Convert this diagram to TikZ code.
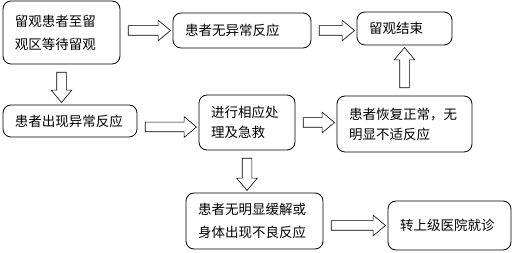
\documentclass[tikz,border=0pt]{standalone}
\usepackage{fontspec}
\setmainfont{Noto Sans CJK SC}
\usetikzlibrary{shapes.arrows,calc}
\tikzset{stepbox/.style={draw, rounded corners=8pt, line width=0.8pt, align=left,
    inner xsep=12pt, inner ysep=0pt, font=\fontsize{13.5}{20}\selectfont},
  widebox/.style={stepbox, font=\fontsize{13.5}{23}\selectfont},
  fatarrow/.style={to path={let \p1=(\tikztostart), \p2=(\tikztotarget),
      \n1={veclen(\x2-\x1,\y2-\y1)}, \n2={atan2(\y2-\y1,\x2-\x1)} in
      node[single arrow, draw, line width=0.6pt, inner sep=4.5pt,
        single arrow head extend=5.5pt, single arrow tip angle=80,
        minimum height=\n1-10, rotate=\n2, at={($(\p1)!0.5!(\p2)$)}] {}}}
}

\begin{document}
\begin{tikzpicture}[x=1pt,y=-1pt]
  \useasboundingbox (0,0) rectangle (512,253);
  % boxes
  \node[widebox, text width=93pt, minimum height=63pt] (start) at (61.5,32.5) {留观患者至留\\观区等待留观};
  \node[stepbox, text width=114pt, minimum height=35pt] (normal) at (242,30.5) {患者无异常反应};
  \node[stepbox, text width=71pt, minimum height=33pt] (finish) at (404.5,28.5) {留观结束};
  \node[stepbox, text width=110pt, minimum height=32pt] (abnormal) at (70,121) {患者出现异常反应};
  \node[stepbox, text width=72pt, minimum height=55pt] (treat) at (247,122.5) {进行相应处\\理及急救};
  \node[stepbox, text width=111pt, minimum height=56pt] (recover) at (404.5,124) {患者恢复正常，无\\明显不适反应};
  \node[widebox, text width=113pt, minimum height=56pt] (worse) at (254.5,221) {患者无明显缓解或\\身体出现不良反应};
  \node[stepbox, text width=99pt, minimum height=49pt] (transfer) at (449.5,225.5) {转上级医院就诊};
  % arrows
  \path (start.east |- normal.west) to[fatarrow] (normal.west);
  \path (normal.east) to[fatarrow] (normal.east -| finish.west);
  \path (recover.north) to[fatarrow] (recover.north |- finish.south);
  \path (start.south) to[fatarrow] (start.south |- abnormal.north);
  \path ([yshift=-6pt]abnormal.east) to[fatarrow] ([yshift=-6pt]abnormal.east -| treat.west);
  \path (treat.east) to[fatarrow] (treat.east -| recover.west);
  \path (treat.south) to[fatarrow] (treat.south |- worse.north);
  \path (worse.east |- transfer.west) to[fatarrow] (transfer.west);
\end{tikzpicture}
\end{document}
